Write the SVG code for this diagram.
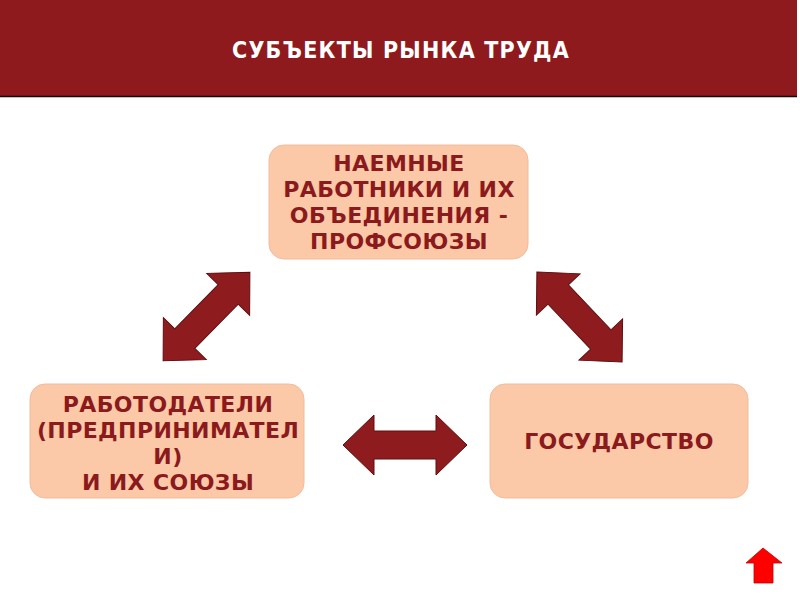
<svg xmlns="http://www.w3.org/2000/svg" width="800" height="600" viewBox="0 0 800 600">
<style>
.box{fill:#FBC8A8;stroke:#F3BC9A;stroke-width:1}
.t{font-family:"DejaVu Sans","Liberation Sans",sans-serif;font-weight:bold;font-size:22px;fill:#8B1A1C;text-anchor:middle;letter-spacing:0.4px}
.title{font-family:"DejaVu Sans Condensed","DejaVu Sans",sans-serif;font-stretch:condensed;font-weight:bold;font-size:23px;fill:#FFFFFF;text-anchor:middle;letter-spacing:1.2px}
.arr{fill:#8E1B1E;stroke:#5E0E10;stroke-width:1}
</style>
<defs>
<path id="dbl" d="M -62 0 L -31 -30 L -31 -14 L 31 -14 L 31 -30 L 62 0 L 31 30 L 31 14 L -31 14 L -31 30 Z"/>
</defs>
<rect x="0" y="0" width="800" height="600" fill="#FFFFFF"/>
<g id="header">
<rect x="0" y="0" width="797" height="96" fill="#8E1A1E"/>
<line x1="0" y1="96.5" x2="797" y2="96.5" stroke="#1A0000" stroke-width="1.5"/>
<text class="title" x="401" y="58">СУБЪЕКТЫ РЫНКА ТРУДА</text>
</g>
<g id="workers">
<rect class="box" x="269" y="145" width="259" height="114" rx="15"/>
<text class="t" x="399" y="171">НАЕМНЫЕ</text>
<text class="t" x="399" y="197">РАБОТНИКИ И ИХ</text>
<text class="t" x="399" y="223">ОБЪЕДИНЕНИЯ -</text>
<text class="t" x="399" y="249">ПРОФСОЮЗЫ</text>
</g>
<g id="employers">
<rect class="box" x="30" y="384" width="274" height="114" rx="15"/>
<text class="t" x="168" y="412">РАБОТОДАТЕЛИ</text>
<text class="t" x="168" y="438">(ПРЕДПРИНИМАТЕЛ</text>
<text class="t" x="168" y="464">И)</text>
<text class="t" x="168" y="490">И ИХ СОЮЗЫ</text>
</g>
<g id="state">
<rect class="box" x="490" y="384" width="258" height="114" rx="15"/>
<text class="t" x="619" y="449">ГОСУДАРСТВО</text>
</g>
<g id="connectors">
<use href="#dbl" class="arr" transform="translate(206.5,316.5) rotate(-45.6)"/>
<use href="#dbl" class="arr" transform="translate(579.5,317) rotate(46.6)"/>
<use href="#dbl" class="arr" transform="translate(405,445)"/>
</g>
<g id="up-button">
<path d="M 763 548 L 782 563 L 773 563 L 773 583 L 754 583 L 754 563 L 746 563 Z" fill="#FF0000" stroke="#C00000" stroke-width="0.8"/>
</g>
</svg>
